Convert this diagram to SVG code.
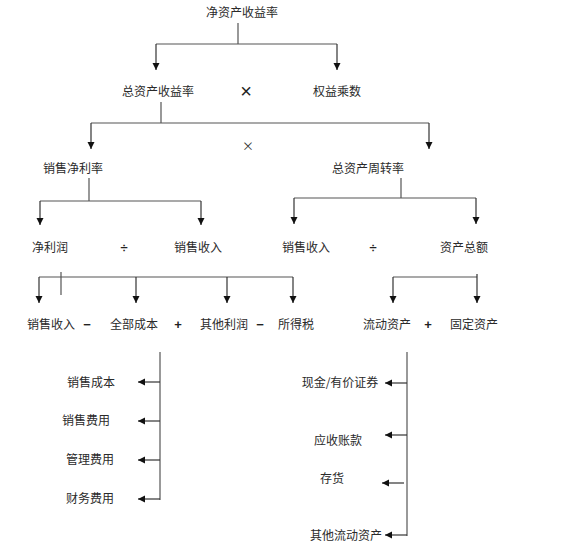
<svg xmlns="http://www.w3.org/2000/svg" width="569" height="551" viewBox="0 0 569 551">
<style>
.t{font-family:"Noto Sans CJK SC","Liberation Sans",sans-serif;font-size:12px;fill:#2a2a2a;text-anchor:middle}
.op{font-family:"Liberation Sans","Noto Sans CJK SC",sans-serif;font-size:13px;fill:#222;text-anchor:middle;font-weight:bold}
.big{font-family:"Liberation Sans",sans-serif;font-size:20px;fill:#222;text-anchor:middle}
.sm{font-family:"Noto Sans CJK SC",sans-serif;font-size:12px;fill:#333;text-anchor:middle}
.c{fill:none;stroke:#555;stroke-width:1.2}
.a{fill:none;stroke:#333;stroke-width:1.2;marker-end:url(#ah)}
</style>
<defs>
<marker id="ah" markerUnits="userSpaceOnUse" markerWidth="8" markerHeight="8" refX="7" refY="3.5" orient="auto">
<path d="M0,0 L7,3.5 L0,7 z" fill="#111"/>
</marker>
</defs>
<rect width="569" height="551" fill="#fff"/>
<g id="connectors">
<path class="c" d="M238,23 V44 M156,44 H337"/>
<path class="a" d="M156,44 V70"/>
<path class="a" d="M337,44 V70"/>
<path class="c" d="M161,102 V123 M91,123 H429"/>
<path class="a" d="M91,123 V149"/>
<path class="a" d="M429,123 V149"/>
<path class="c" d="M89,178 V201 M40,201 H201"/>
<path class="a" d="M40,201 V225"/>
<path class="a" d="M201,201 V225"/>
<path class="c" d="M401,178 V198 M294,198 H476"/>
<path class="a" d="M294,198 V224"/>
<path class="a" d="M476,198 V224"/>
<path class="c" d="M39,277 H293 M61,272 V295"/>
<path class="a" d="M39,277 V303"/>
<path class="a" d="M136,277 V303"/>
<path class="a" d="M227,277 V303"/>
<path class="a" d="M293,277 V303"/>
<path class="c" d="M393,277 H477"/>
<path class="a" d="M393,277 V303"/>
<path class="a" d="M477,274 V303"/>
<path class="c" d="M160,352 V500"/>
<path class="a" d="M160,382 H138"/>
<path class="a" d="M160,421 H138"/>
<path class="a" d="M160,460 H138"/>
<path class="a" d="M160,499 H138"/>
<path class="c" d="M407,352 V536"/>
<path class="a" d="M407,383 H385"/>
<path class="a" d="M407,435 H385"/>
<path class="a" d="M404,483 H382"/>
<path class="a" d="M407,535 H385"/>
</g>
<g id="n-roe"><text class="t" x="242" y="17">净资产收益率</text></g>
<g id="n-roa"><text class="t" x="158" y="96">总资产收益率</text></g>
<g id="op1"><text class="big" x="246" y="98">×</text></g>
<g id="n-em"><text class="t" x="337" y="96">权益乘数</text></g>
<g id="op2"><text class="sm" x="248" y="151">×</text></g>
<g id="n-npm"><text class="t" x="73" y="173">销售净利率</text></g>
<g id="n-tat"><text class="t" x="368" y="173">总资产周转率</text></g>
<g id="n-np"><text class="t" x="50" y="252">净利润</text></g>
<g id="op3"><text class="op" x="124" y="252">÷</text></g>
<g id="n-rev1"><text class="t" x="198" y="252">销售收入</text></g>
<g id="n-rev2"><text class="t" x="306" y="252">销售收入</text></g>
<g id="op4"><text class="op" x="373" y="252">÷</text></g>
<g id="n-ta"><text class="t" x="464" y="252">资产总额</text></g>
<g id="n-rev3"><text class="t" x="51" y="329">销售收入</text></g>
<g id="op5"><text class="op" x="87" y="329">−</text></g>
<g id="n-cost"><text class="t" x="134" y="329">全部成本</text></g>
<g id="op6"><text class="op" x="178" y="329">+</text></g>
<g id="n-op"><text class="t" x="224" y="329">其他利润</text></g>
<g id="op7"><text class="op" x="260" y="329">−</text></g>
<g id="n-tax"><text class="t" x="296" y="329">所得税</text></g>
<g id="n-ca"><text class="t" x="387" y="329">流动资产</text></g>
<g id="op8"><text class="op" x="428" y="329">+</text></g>
<g id="n-fa"><text class="t" x="474" y="329">固定资产</text></g>
<g id="n-cogs"><text class="t" x="91" y="387">销售成本</text></g>
<g id="n-se"><text class="t" x="86" y="425">销售费用</text></g>
<g id="n-ae"><text class="t" x="90" y="464">管理费用</text></g>
<g id="n-fe"><text class="t" x="90" y="503">财务费用</text></g>
<g id="n-cash"><text class="t" x="340" y="387">现金/有价证券</text></g>
<g id="n-ar"><text class="t" x="338" y="445">应收账款</text></g>
<g id="n-inv"><text class="t" x="332" y="483">存货</text></g>
<g id="n-oca"><text class="t" x="346" y="540">其他流动资产</text></g>
</svg>
